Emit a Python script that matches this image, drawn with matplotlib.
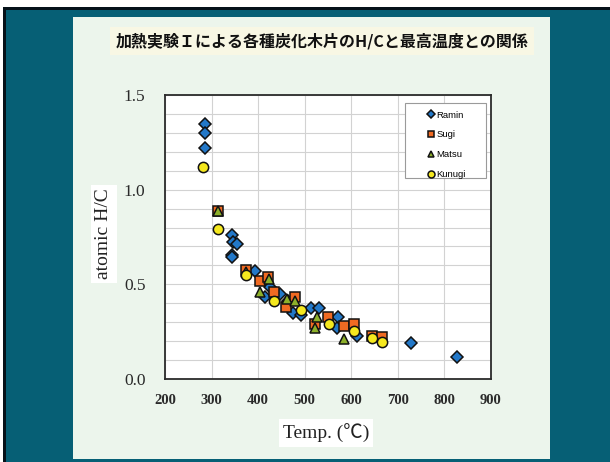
import numpy as np
import matplotlib
matplotlib.use("Agg")
import matplotlib.pyplot as plt
from matplotlib.patches import Rectangle

# ---------------- data ----------------
title = "加熱実験Ｉによる各種炭化木片のH/Cと最高温度との関係"
x_label = "Temp. (℃)"
y_label = "atomic H/C"
x_ticks = [200, 300, 400, 500, 600, 700, 800, 900]
y_ticks = [0.0, 0.5, 1.0, 1.5]

series_names = ["Ramin", "Sugi", "Matsu", "Kunugi"]

ramin_x = [285, 285, 285, 343, 346, 355, 343, 343, 394, 425, 414, 448, 465,
           475, 492, 514, 531, 572, 569, 613, 729, 827]
ramin_y = [1.347, 1.30, 1.22, 0.762, 0.726, 0.714, 0.656, 0.645, 0.573, 0.488,
           0.435, 0.45, 0.41, 0.348, 0.339, 0.374, 0.374, 0.33, 0.268, 0.227,
           0.189, 0.118]

sugi_x = [313, 373, 405, 422, 434, 479, 460, 522, 549, 585, 606, 645, 667]
sugi_y = [0.885, 0.577, 0.515, 0.541, 0.457, 0.432, 0.379, 0.29, 0.326, 0.28,
          0.289, 0.225, 0.222]

matsu_x = [313, 373, 424, 403, 462, 479, 526, 522, 585]
matsu_y = [0.885, 0.565, 0.53, 0.462, 0.421, 0.41, 0.33, 0.268, 0.21]

kunugi_x = [282, 313, 373, 434, 491, 553, 605, 645, 667]
kunugi_y = [1.118, 0.792, 0.547, 0.414, 0.365, 0.289, 0.254, 0.219, 0.197]

# ---------------- figure ----------------
W, H = 610, 462
fig = plt.figure(figsize=(W / 100, H / 100), dpi=100)
fig.patch.set_facecolor("white")


def fx(x):
    return x / W


def fy(y):
    return 1 - y / H


# slide background: black frame, teal, light panel
fig.add_artist(Rectangle((fx(3), 0), fx(607), (H - 7) / H, transform=fig.transFigure,
                         facecolor="#06121a", edgecolor="none", zorder=0))
fig.add_artist(Rectangle((fx(6), 0), fx(604), (H - 10) / H, transform=fig.transFigure,
                         facecolor="#065f75", edgecolor="none", zorder=0))
fig.add_artist(Rectangle((fx(73), fy(459)), fx(550 - 73), (459 - 17) / H,
                         transform=fig.transFigure, facecolor="#ecf5ec",
                         edgecolor="none", zorder=0))

ax = fig.add_axes([fx(165), fy(379), fx(326), 284 / H])
ax.set_facecolor("white")
ax.set_zorder(2)

styles = {
    "Ramin": dict(marker="D", color="#2378c8", ms=6.3),
    "Sugi": dict(marker="s", color="#f06a22", ms=6.6),
    "Matsu": dict(marker="^", color="#8db02a", ms=7.2),
    "Kunugi": dict(marker="o", color="#f5e81e", ms=7.4),
}
data = {
    "Ramin": (ramin_x, ramin_y),
    "Sugi": (sugi_x, sugi_y),
    "Matsu": (matsu_x, matsu_y),
    "Kunugi": (kunugi_x, kunugi_y),
}
handles = []
for i, name in enumerate(series_names):
    st = styles[name]
    xs, ys = data[name]
    h, = ax.plot(xs, ys, linestyle="none", marker=st["marker"], ms=st["ms"],
                 markerfacecolor=st["color"], markeredgecolor="#111111",
                 markeredgewidth=1.1, zorder=3 + i, label=name)
    handles.append(h)

ax.set_xlim(200, 900)
ax.set_ylim(0, 1.5)
ax.set_xticks(x_ticks)
ax.set_xticklabels([str(v) for v in x_ticks], fontsize=10.5, fontweight="bold",
                   family="Liberation Serif", color="#2a2a2a")
ax.set_yticks(y_ticks)
ax.set_yticklabels([f"{v:.1f}" for v in y_ticks], fontsize=12.5,
                   family="Liberation Serif", color="#2a2a2a")
ax.set_yticks(np.arange(0, 1.51, 0.1), minor=True)
ax.tick_params(axis="both", which="both", length=0)
ax.tick_params(axis="x", pad=11)
ax.tick_params(axis="y", pad=14)
ax.grid(True, axis="x", which="major", color="#d2d2d2", lw=0.8)
ax.grid(True, axis="y", which="both", color="#d2d2d2", lw=0.8)
ax.set_axisbelow(True)
for sp in ax.spines.values():
    sp.set_color("#2b2b2b")
    sp.set_linewidth(1.3)

# legend frame (drawn manually) and legend entries
ax.add_patch(Rectangle((0.736, 0.708), 0.249, 0.264, transform=ax.transAxes,
                       facecolor="white", edgecolor="#9a9a9a", lw=0.8, zorder=10))
leg = ax.legend(handles=handles, loc="upper left", bbox_to_anchor=(0.788, 0.962),
                frameon=False, borderpad=0, handlelength=0.9, handletextpad=0.15,
                labelspacing=1.15, markerscale=0.68,
                prop={"family": "Liberation Sans", "size": 6.8})
leg.set_zorder(11)

# texts
fig.text(fx(322), fy(41), title, ha="center", va="center", fontsize=11.5,
         fontweight="bold", family=["Noto Sans CJK JP", "DejaVu Sans"],
         color="#111111",
         bbox=dict(facecolor="#f8f7e4", edgecolor="none", pad=4))
fig.text(fx(104), fy(234), y_label, rotation=90, ha="center", va="center",
         fontsize=14, family=["Liberation Serif", "DejaVu Serif"], color="#222222",
         bbox=dict(facecolor="white", edgecolor="none", pad=3))
fig.text(fx(326), fy(433), x_label, ha="center", va="center",
         fontsize=14, family=["Liberation Serif", "Noto Sans CJK JP", "DejaVu Serif"],
         color="#222222",
         bbox=dict(facecolor="white", edgecolor="none", pad=3))

fig.savefig("out.png", dpi=100)
